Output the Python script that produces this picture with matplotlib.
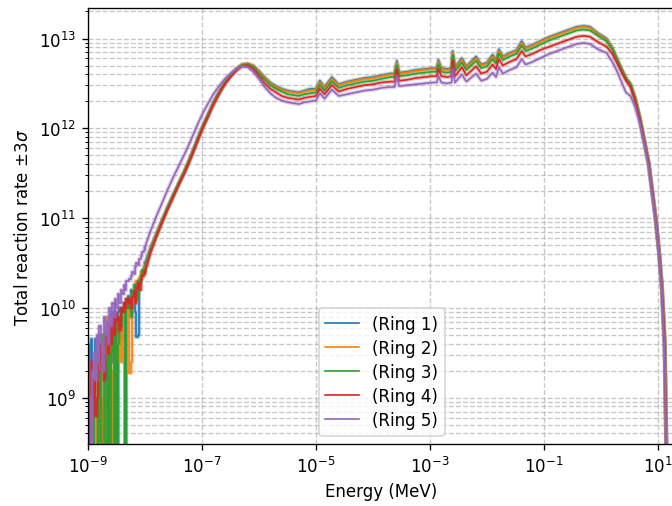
import numpy as np
import matplotlib.pyplot as plt
from matplotlib.ticker import LogLocator, NullLocator

# energy grid, log10(E / MeV)
log_energy_low = [
    -9.000, -8.975, -8.950, -8.925, -8.900, -8.875, -8.850, -8.825, -8.800, -8.775,
    -8.750, -8.725, -8.700, -8.675, -8.650, -8.625, -8.600, -8.575, -8.550, -8.525,
    -8.500, -8.475, -8.450, -8.425, -8.400, -8.375, -8.350, -8.325,
    -8.300, -8.275, -8.250, -8.225, -8.200, -8.175, -8.150, -8.125, -8.100, -8.075, -8.050, -8.025,
]
log_energy = [
    -8.00, -7.90, -7.80, -7.70, -7.60, -7.50, -7.40, -7.30, -7.20, -7.10, -7.00,
    -6.90, -6.80, -6.70, -6.60, -6.50, -6.40, -6.30,
    -6.20, -6.10, -6.00, -5.90, -5.80, -5.70, -5.60, -5.50, -5.40, -5.30, -5.20, -5.10, -5.00,
    -4.93, -4.85, -4.72, -4.60, -4.45, -4.30, -4.15, -4.00, -3.85, -3.70, -3.62, -3.58, -3.54, -3.40,
    -3.25, -3.10, -2.95, -2.88, -2.85, -2.80, -2.70, -2.62, -2.60, -2.56, -2.44, -2.36, -2.19, -2.10,
    -2.00, -1.90, -1.84, -1.79, -1.72, -1.60, -1.48, -1.39, -1.32, -1.20, -1.07, -0.90, -0.77, -0.60,
    -0.42, -0.30, -0.19, -0.05,
    0.10, 0.20, 0.28, 0.36, 0.44, 0.52, 0.60, 0.68, 0.76, 0.84, 0.90, 0.96, 1.02, 1.07, 1.12, 1.16,
]

# log10 of total reaction rate per ring (8.0 = empty bin, below the axis)
# noisy low-energy bins
ring1_low = [9.60, 8.00, 9.65, 8.00, 9.10, 9.65, 9.30, 8.00, 9.30, 8.90, 8.00, 9.50, 9.60, 9.20,
             8.00, 9.80, 9.95, 9.40, 9.95, 9.70, 8.00, 9.95, 10.00, 9.65, 9.95, 10.05, 8.00, 10.10,
             10.13, 10.05, 10.20, 10.17, 10.25, 9.95, 9.68, 9.70, 10.30, 10.35, 10.40, 10.45]
ring2_low = [8.00, 9.20, 8.00, 8.60, 9.20, 8.90, 8.00, 9.30, 9.70, 9.00, 8.00, 8.00, 9.50, 9.90,
             9.40, 9.60, 8.00, 9.30, 9.85, 9.60, 9.40, 9.70, 9.85, 9.40, 9.95, 10.00, 9.90, 10.05,
             10.10, 9.28, 9.40, 10.15, 10.22, 10.05, 10.30, 10.25, 10.33, 10.40, 10.38, 10.45]
ring3_low = [8.00, 8.90, 9.30, 8.00, 9.00, 9.20, 9.50, 8.00, 8.00, 9.60, 9.70, 9.30, 8.00, 9.40,
             9.80, 8.00, 9.50, 9.70, 8.00, 9.90, 8.00, 9.60, 9.90, 9.80, 10.00, 9.95, 8.00, 10.00,
             10.08, 10.00, 9.90, 10.15, 10.20, 10.25, 10.10, 10.30, 10.28, 10.35, 10.42, 10.40]
ring4_low = [9.10, 8.00, 9.40, 9.00, 9.20, 8.80, 9.00, 9.40, 9.60, 9.30, 9.50, 9.20, 9.70, 9.60,
             9.50, 9.80, 9.60, 9.90, 9.70, 9.95, 9.85, 9.90, 9.75, 10.00, 9.95, 10.05, 10.00, 10.10,
             10.05, 10.10, 10.00, 10.12, 10.18, 10.05, 10.22, 10.28, 10.20, 10.32, 10.36, 10.38]
ring5_low = [9.40, 9.00, 8.00, 9.30, 9.50, 9.20, 9.70, 9.40, 9.80, 9.60, 9.30, 9.90, 9.70, 9.85,
             9.60, 10.00, 9.80, 10.05, 9.90, 10.10, 10.00, 10.15, 10.05, 10.20, 10.15, 10.25, 10.20, 10.30,
             10.30, 10.32, 10.35, 10.40, 10.38, 10.45, 10.50, 10.48, 10.55, 10.58, 10.62, 10.65]

ring1 = [
    10.50, 10.68, 10.83, 10.98, 11.13, 11.27, 11.40, 11.54, 11.69, 11.85, 12.01,
    12.15, 12.29, 12.41, 12.51, 12.59, 12.66, 12.71,
    12.72, 12.70, 12.64, 12.57, 12.51, 12.47, 12.44, 12.42, 12.41, 12.40, 12.42, 12.44, 12.44,
    12.53, 12.46, 12.57, 12.49, 12.52, 12.54, 12.56, 12.57, 12.59, 12.61, 12.61, 12.75, 12.62, 12.63,
    12.65, 12.66, 12.67, 12.67, 12.76, 12.67, 12.66, 12.67, 12.86, 12.68, 12.78, 12.69, 12.80, 12.71,
    12.73, 12.82, 12.76, 12.88, 12.80, 12.84, 12.87, 12.97, 12.90, 12.93, 12.97, 13.02, 13.05, 13.09,
    13.13, 13.14, 13.13, 13.06,
    13.00, 12.90, 12.78, 12.66, 12.55, 12.49, 12.33, 12.12, 11.86, 11.60, 11.30, 11.00, 10.62, 10.21, 9.55, 8.00,
]
ring2 = [
    10.45, 10.66, 10.82, 10.97, 11.12, 11.26, 11.40, 11.53, 11.68, 11.84, 12.00,
    12.14, 12.28, 12.40, 12.50, 12.59, 12.66, 12.71,
    12.72, 12.69, 12.63, 12.56, 12.50, 12.46, 12.43, 12.41, 12.40, 12.39, 12.41, 12.42, 12.43,
    12.51, 12.45, 12.55, 12.48, 12.51, 12.53, 12.55, 12.56, 12.58, 12.60, 12.60, 12.73, 12.61, 12.62,
    12.64, 12.65, 12.66, 12.66, 12.74, 12.66, 12.65, 12.66, 12.84, 12.67, 12.76, 12.68, 12.78, 12.70,
    12.72, 12.80, 12.75, 12.86, 12.79, 12.83, 12.86, 12.95, 12.89, 12.92, 12.96, 13.01, 13.04, 13.08,
    13.12, 13.13, 13.12, 13.05,
    12.99, 12.89, 12.77, 12.66, 12.56, 12.49, 12.33, 12.12, 11.87, 11.61, 11.31, 11.02, 10.66, 10.28, 9.70, 8.00,
]
ring3 = [
    10.42, 10.64, 10.80, 10.96, 11.11, 11.25, 11.39, 11.52, 11.67, 11.83, 11.99,
    12.13, 12.27, 12.39, 12.50, 12.58, 12.65, 12.70,
    12.71, 12.68, 12.61, 12.54, 12.48, 12.44, 12.41, 12.38, 12.37, 12.36, 12.38, 12.39, 12.40,
    12.48, 12.42, 12.52, 12.45, 12.48, 12.50, 12.52, 12.53, 12.55, 12.57, 12.57, 12.70, 12.58, 12.59,
    12.61, 12.62, 12.63, 12.63, 12.71, 12.63, 12.62, 12.63, 12.81, 12.64, 12.73, 12.65, 12.75, 12.67,
    12.69, 12.77, 12.72, 12.83, 12.76, 12.80, 12.83, 12.92, 12.86, 12.89, 12.93, 12.98, 13.01, 13.05,
    13.09, 13.10, 13.09, 13.03,
    12.97, 12.88, 12.77, 12.66, 12.56, 12.49, 12.34, 12.13, 11.88, 11.62, 11.32, 11.01, 10.64, 10.25, 9.62, 8.00,
]
ring4 = [
    10.40, 10.62, 10.79, 10.95, 11.10, 11.24, 11.38, 11.51, 11.66, 11.82, 11.98,
    12.12, 12.26, 12.38, 12.49, 12.57, 12.64, 12.69,
    12.70, 12.66, 12.58, 12.50, 12.44, 12.40, 12.36, 12.34, 12.33, 12.32, 12.34, 12.35, 12.36,
    12.44, 12.38, 12.48, 12.41, 12.44, 12.46, 12.48, 12.49, 12.51, 12.52, 12.52, 12.65, 12.53, 12.54,
    12.56, 12.57, 12.58, 12.58, 12.66, 12.58, 12.57, 12.58, 12.75, 12.58, 12.68, 12.59, 12.69, 12.61,
    12.63, 12.71, 12.66, 12.77, 12.70, 12.74, 12.77, 12.86, 12.80, 12.83, 12.87, 12.91, 12.94, 12.98,
    13.02, 13.03, 13.02, 12.96,
    12.91, 12.83, 12.73, 12.63, 12.53, 12.46, 12.31, 12.11, 11.86, 11.60, 11.30, 11.00, 10.63, 10.24, 9.60, 8.00,
]
ring5 = [
    10.68, 10.86, 11.02, 11.17, 11.32, 11.46, 11.59, 11.72, 11.86, 12.01, 12.15,
    12.27, 12.38, 12.47, 12.55, 12.61, 12.66, 12.69,
    12.68, 12.63, 12.55, 12.46, 12.39, 12.34, 12.31, 12.29, 12.28, 12.27, 12.29, 12.30, 12.31,
    12.39, 12.33, 12.43, 12.36, 12.38, 12.40, 12.42, 12.43, 12.45, 12.46, 12.46, 12.58, 12.47, 12.48,
    12.49, 12.50, 12.51, 12.51, 12.58, 12.51, 12.50, 12.51, 12.66, 12.51, 12.60, 12.52, 12.61, 12.53,
    12.55, 12.62, 12.57, 12.68, 12.61, 12.65, 12.68, 12.77, 12.71, 12.74, 12.78, 12.83, 12.86, 12.90,
    12.94, 12.95, 12.94, 12.88,
    12.84, 12.74, 12.64, 12.52, 12.40, 12.36, 12.24, 12.06, 11.83, 11.57, 11.28, 10.98, 10.60, 10.20, 9.50, 8.00,
]

rings_low = [ring1_low, ring2_low, ring3_low, ring4_low, ring5_low]
rings = [ring1, ring2, ring3, ring4, ring5]
labels = ['(Ring 1)', '(Ring 2)', '(Ring 3)', '(Ring 4)', '(Ring 5)']
colors = ['#1f77b4', '#ff7f0e', '#2ca02c', '#d62728', '#9467bd']

E_low = 10.0 ** np.array(log_energy_low + log_energy[:1])
E = 10.0 ** np.array(log_energy)

fig = plt.figure(figsize=(5.6, 4.225), dpi=120)
ax = fig.add_axes([88 / 672, 1 - 445 / 507, (675 - 88) / 672, 435.7 / 507])

for low, vals, lab, c in zip(rings_low, rings, labels, colors):
    r_low = 10.0 ** np.array(low + vals[:1])
    rate = 10.0 ** np.array(vals)
    # noisy thermal tail drawn as histogram steps
    ax.plot(E_low, r_low, color=c, lw=2.5, alpha=0.35, drawstyle='steps-post')
    ax.plot(E_low, r_low, color=c, lw=1.0, drawstyle='steps-post')
    # lighter halo standing in for the +-3 sigma band
    ax.plot(E, rate, color=c, lw=2.5, alpha=0.3)
    ax.plot(E, rate, color=c, lw=1.0, label=lab)

ax.set_xscale('log')
ax.set_yscale('log')
ax.set_xlim(1e-9, 2e1)
ax.set_ylim(3.05e8, 2.17e13)
ax.set_xticks([1e-9, 1e-7, 1e-5, 1e-3, 1e-1, 1e1])
ax.xaxis.set_minor_locator(NullLocator())
ax.yaxis.set_minor_locator(LogLocator(base=10, subs=np.arange(2, 10)))

ax.grid(True, which='major', axis='both', ls='--', color='#b0b0b0', lw=0.8, alpha=0.7)
ax.grid(True, which='minor', axis='y', ls='--', color='#b0b0b0', lw=0.8, alpha=0.7)

ax.set_xlabel('Energy (MeV)')
ax.set_ylabel(r'Total reaction rate $\pm3\sigma$')
ax.legend(loc='lower center', labelspacing=0.36)

fig.savefig('out.png', dpi=120)
